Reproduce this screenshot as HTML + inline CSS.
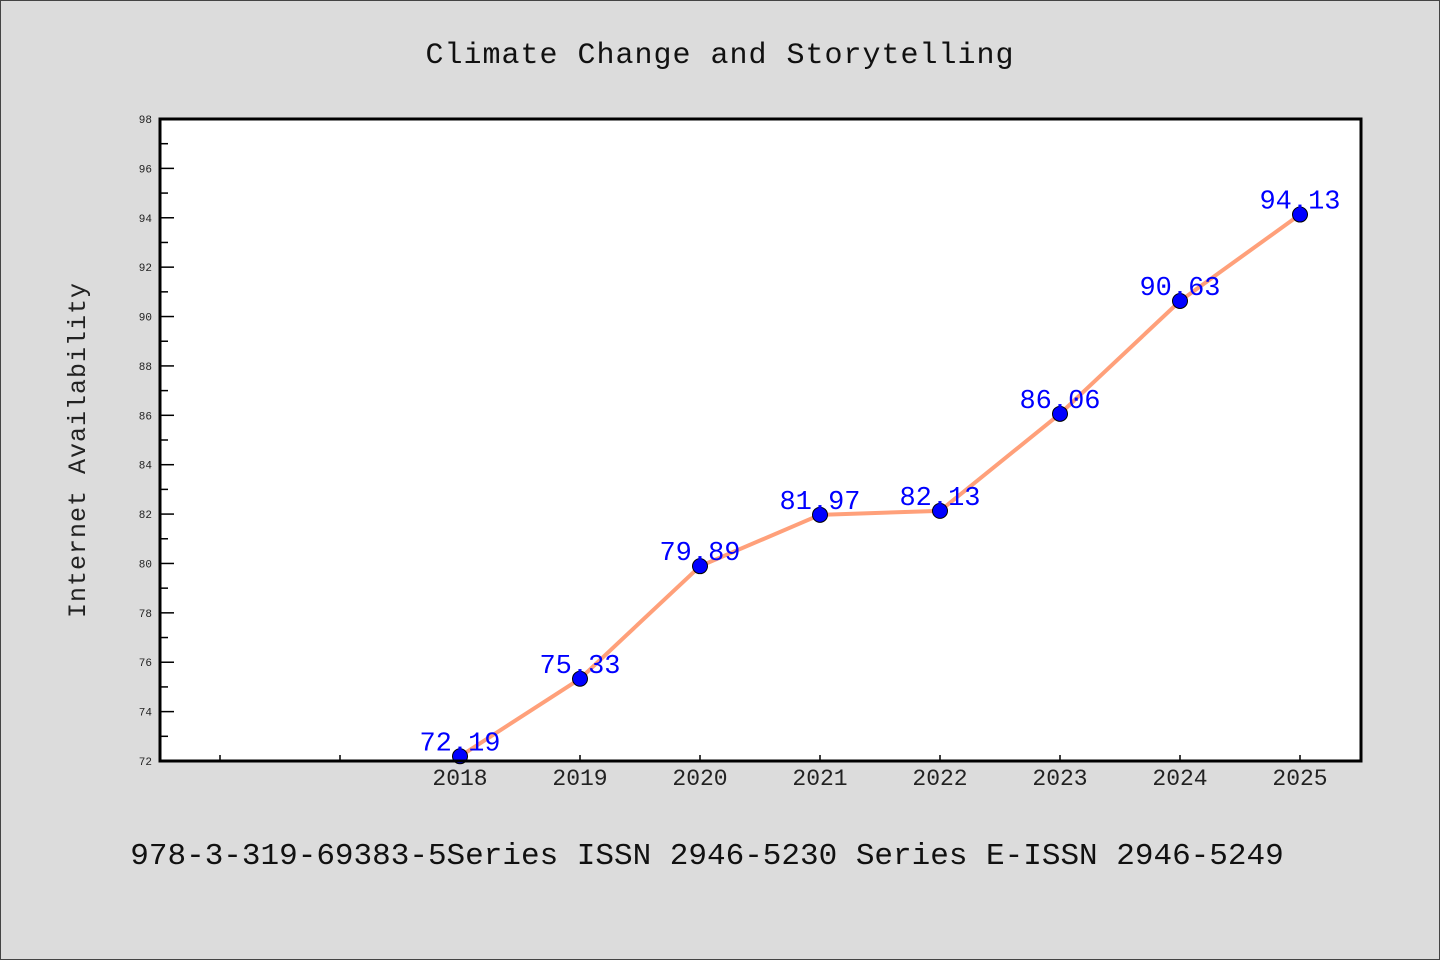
<!DOCTYPE html>
<html><head><meta charset="utf-8"><style>
html,body{margin:0;padding:0;background:#dcdcdc}
svg{display:block}
text{font-family:"Liberation Mono","DejaVu Sans Mono",monospace}
</style></head><body>
<svg id="chart" width="1440" height="960" xmlns="http://www.w3.org/2000/svg">
<rect x="0.5" y="0.5" width="1439" height="959" fill="#dcdcdc" stroke="#444" stroke-width="1"/>
<text x="720" y="63" font-size="30" text-anchor="middle" fill="#111" letter-spacing="1">Climate Change and Storytelling</text>
<rect x="160" y="119" width="1201" height="642" fill="#fff"/>
<g id="ticks"></g>
<g id="series"></g>
<rect x="160" y="119" width="1201" height="642" fill="none" stroke="#000" stroke-width="3"/>
<text transform="translate(85,450) rotate(-90)" font-size="25" text-anchor="middle" fill="#222" letter-spacing="1">Internet Availability</text>
<text x="707" y="864" font-size="31" text-anchor="middle" fill="#111">978-3-319-69383-5Series ISSN 2946-5230 Series E-ISSN 2946-5249</text>
</svg>
<script>
const categories = ["", "", "2018", "2019", "2020", "2021", "2022", "2023", "2024", "2025"];
const values = [null, null, 72.19, 75.33, 79.89, 81.97, 82.13, 86.06, 90.63, 94.13];
const valueLabels = ["", "", "72.19", "75.33", "79.89", "81.97", "82.13", "86.06", "90.63", "94.13"];
const yTicks = [72, 74, 76, 78, 80, 82, 84, 86, 88, 90, 92, 94, 96, 98];

const NS = "http://www.w3.org/2000/svg";
const L = 160, R = 1361, T = 119, B = 761, yMin = 72, yMax = 98;
const xScale = i => L + 60 + 120 * i;
const yScale = v => B - (v - yMin) / (yMax - yMin) * (B - T);
function mk(tag, attrs, parent) { const e = document.createElementNS(NS, tag); for (const k in attrs) e.setAttribute(k, attrs[k]); parent.appendChild(e); return e; }
const tg = document.getElementById("ticks"), sg = document.getElementById("series");

yTicks.forEach((v, i) => {
  const y = yScale(v);
  const t = mk("line", {x1: L, x2: L + 14, y1: y, y2: y, stroke: "#000", "stroke-width": 1.5}, tg);
  
  
  const lb = mk("text", {x: 152, y: y + 4, "font-size": 11, "text-anchor": "end", fill: "#222"}, tg);
  
  
  lb.textContent = v;
  if (i < yTicks.length - 1) {
    const ym = yScale(v + 1);
    const m = mk("line", {x1: L, x2: L + 8, y1: ym, y2: ym, stroke: "#000", "stroke-width": 1.5}, tg);
    
    
  }
});
categories.forEach((c, i) => {
  const x = xScale(i);
  const t = mk("line", {x1: x, x2: x, y1: B, y2: B - 6, stroke: "#000", "stroke-width": 1.5}, tg);
  
  
  const lb = mk("text", {x: x, y: 785, "font-size": 23, "text-anchor": "middle", fill: "#222", "font-family": "Liberation Sans, sans-serif"}, tg);
  
  
  lb.textContent = c;
});
let d = "";
values.forEach((v, i) => { if (v == null) return; d += (d ? "L" : "M") + xScale(i) + "," + yScale(v); });
const line = mk("path", {d: d, fill: "none", stroke: "#ffa07a", "stroke-width": 4, "stroke-linejoin": "round"}, sg);


values.forEach((v, i) => {
  if (v == null) return;
  const x = xScale(i), y = yScale(v);
  const c = mk("circle", {cx: x, cy: y, r: 7.5, fill: "#0000ff", stroke: "#000", "stroke-width": 1}, sg);
  
  
  const lb = mk("text", {x: x, y: y - 6, "font-size": 27, "text-anchor": "middle", fill: "#0000ff", "font-family": "Liberation Sans, sans-serif"}, sg);
  
  
  lb.textContent = valueLabels[i];
});
</script>
</body></html>
